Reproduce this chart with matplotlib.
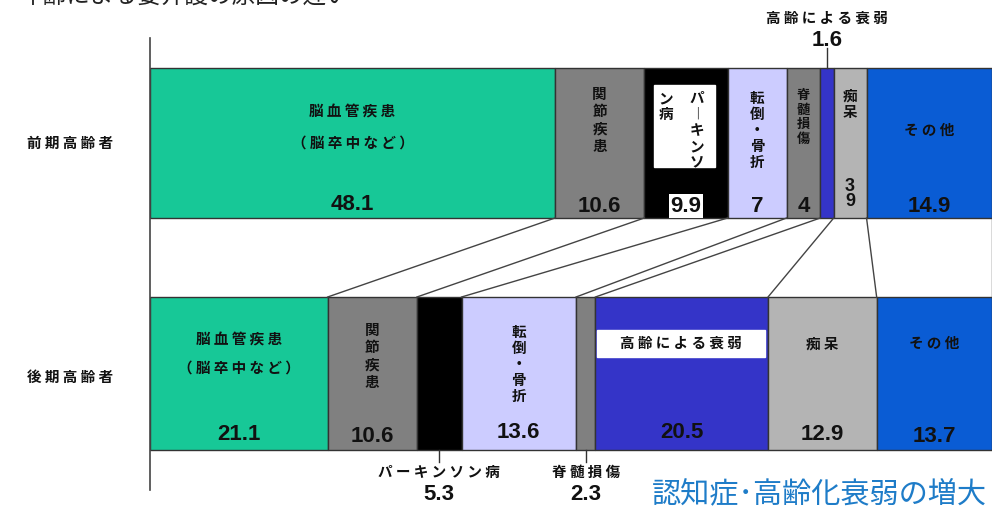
"""
Causes of long-term care need: early vs late elderly (stacked 100% bars).
"""

import numpy as np
import matplotlib.pyplot as plt
from matplotlib.patches import Rectangle

plt.rcParams['font.family'] = ['Noto Sans CJK JP', 'DejaVu Sans']

# data
causes = ['脳血管疾患', '関節疾患', 'パーキンソン病', '転倒・骨折',
          '脊髄損傷', '高齢による衰弱', '痴呆', 'その他']
early = [48.1, 10.6, 9.9, 7, 4, 1.6, 3.9, 14.9]
late = [21.1, 10.6, 5.3, 13.6, 2.3, 20.5, 12.9, 13.7]
rows = ['前期高齢者', '後期高齢者']
colors = ['#17C897', '#808080', '#000000', '#CCCCFF',
          '#808080', '#3434C8', '#B4B4B4', '#0A5CD4']

# pixel-ish layout: y data == pixel row of the image
W, H = 994, 508
x0, x1 = 150, 992
y_top, y_bot = 38, 490
top_y0, top_y1 = 68, 218
bot_y0, bot_y1 = 297, 450
px = (x1 - x0) / 100  # pixels per percent

fig = plt.figure(figsize=(W / 100, H / 100), dpi=100)
ax = fig.add_axes([x0 / W, 1 - y_bot / H, (x1 - x0) / W, (y_bot - y_top) / H])
ax.set_xlim(0, 100)
ax.set_ylim(y_bot, y_top)
for s in ['top', 'right', 'bottom']:
    ax.spines[s].set_visible(False)
ax.spines['left'].set_color('#444444')
ax.spines['left'].set_linewidth(1.2)
ax.set_xticks([])
ax.set_yticks([])

left_e = np.concatenate([[0], np.cumsum(early)[:-1]])
left_l = np.concatenate([[0], np.cumsum(late)[:-1]])
mid_e = left_e + np.array(early) / 2
mid_l = left_l + np.array(late) / 2

ax.barh((top_y0 + top_y1) / 2, early, left=left_e, height=top_y1 - top_y0,
        color=colors, edgecolor='#333333', linewidth=1)
ax.barh((bot_y0 + bot_y1) / 2, late, left=left_l, height=bot_y1 - bot_y0,
        color=colors, edgecolor='#333333', linewidth=1)

# connector lines between cumulative boundaries
ce = np.cumsum(early)
cl = np.cumsum(late)
for a, b in zip(ce, cl):
    ax.plot([a, b], [top_y1, bot_y0], color='#444444', lw=1)

txt = dict(ha='center', color='#111111', fontsize=10.5, fontweight='bold')
num = dict(ha='center', va='center', color='#111111', fontsize=16,
           fontweight='bold', family=['Liberation Sans', 'DejaVu Sans'])


def spaced(s):
    return ' '.join(s)


def vert(s):
    return '\n'.join(s)


# row labels
ax.text(-9.5, (top_y0 + top_y1) / 2, spaced(rows[0]), va='center', clip_on=False, **txt)
ax.text(-9.5, (bot_y0 + bot_y1) / 2 + 3, spaced(rows[1]), va='center', clip_on=False, **txt)

# ---- top bar labels
ax.text(mid_e[0], 112, spaced(causes[0]), va='center', **txt)
ax.text(mid_e[0], 143, spaced('（脳卒中など）'), va='center', **txt)
ax.text(mid_e[0], 205, f'{early[0]}', **num)

ax.text(mid_e[1], 86, vert(causes[1]), va='top', linespacing=1.1, **txt)
ax.text(mid_e[1], 206, f'{early[1]}', **num)

# parkinson: white box with two vertical columns
ax.add_patch(Rectangle(((654 - x0) / px, 85), 61 / px, 82, color='white', zorder=3))
ax.text((697 - x0) / px, 90, vert('パ︱キンソ'), va='top', linespacing=1.0,
        zorder=4, **txt)
ax.text((666 - x0) / px, 90, vert('ン病'), va='top', linespacing=1.0,
        zorder=4, **txt)
ax.text(mid_e[2], 206, f'{early[2]}', zorder=4,
        bbox=dict(facecolor='white', edgecolor='none', pad=1), **num)

ax.text(mid_e[3], 90, vert('転倒・骨折'), va='top', linespacing=1.0, **txt)
ax.text(mid_e[3], 206, f'{early[3]}', **num)

ax.text(mid_e[4], 88, vert('脊髄損傷'), va='top', linespacing=1.05, fontsize=9.5,
        ha='center', color='#111111', fontweight='bold')
ax.text(mid_e[4], 206, f'{early[4]}', **num)

ax.text(mid_e[6], 88, vert('痴呆'), va='top', linespacing=1.0, **txt)
ax.text(mid_e[6], 194, '3\n9', linespacing=0.85, **{**num, 'fontsize': 13})

ax.text(mid_e[7], 130, spaced('その他'), va='center', **txt)
ax.text(mid_e[7], 206, f'{early[7]}', **num)

# frailty callout above
ax.plot([mid_e[5], mid_e[5]], [48, top_y0], color='#333333', lw=1, clip_on=False)
ax.text(mid_e[5], 18, spaced(causes[5]), va='center', clip_on=False, **txt)
ax.text(mid_e[5], 40, f'{early[5]}', clip_on=False, **num)

# ---- bottom bar labels
ax.text(mid_l[0], 340, spaced(causes[0]), va='center', **txt)
ax.text(mid_l[0], 368, spaced('（脳卒中など）'), va='center', **txt)
ax.text(mid_l[0], 435, f'{late[0]}', **num)

ax.text(mid_l[1], 322, vert(causes[1]), va='top', linespacing=1.1, **txt)
ax.text(mid_l[1], 436, f'{late[1]}', **num)

ax.text(mid_l[3], 324, vert('転倒・骨折'), va='top', linespacing=1.0, **txt)
ax.text(mid_l[3], 432, f'{late[3]}', **num)

ax.add_patch(Rectangle(((597 - x0) / px, 330), 168 / px, 27, color='white', zorder=3))
ax.text((681 - x0) / px, 343, spaced(causes[5]), va='center', zorder=4, **txt)
ax.text(mid_l[5], 432, f'{late[5]}', **num)

ax.text(mid_l[6], 343, spaced(causes[6]), va='center', **txt)
ax.text(mid_l[6], 435, f'{late[6]}', **num)

ax.text(mid_l[7], 343, spaced(causes[7]), va='center', **txt)
ax.text(mid_l[7], 437, f'{late[7]}', **num)

# callouts below
for i in (2, 4):
    ax.plot([mid_l[i], mid_l[i]], [bot_y1, 462], color='#333333', lw=1, clip_on=False)
    ax.text(mid_l[i], 472, spaced(causes[i]), va='center', clip_on=False, **txt)
    ax.text(mid_l[i], 495, f'{late[i]}', clip_on=False, **num)

# headline texts
fig.text(0.656, 1 - 494 / H, '認知症･高齢化衰弱の増大', color='#1E7CC8',
         fontsize=21, va='center', ha='left')
fig.text(0.02, 1 + 3 / H, '年齢による要介護の原因の違い', color='#222222',
         fontsize=17, va='center', ha='left')

fig.savefig('out.png', dpi=100)
